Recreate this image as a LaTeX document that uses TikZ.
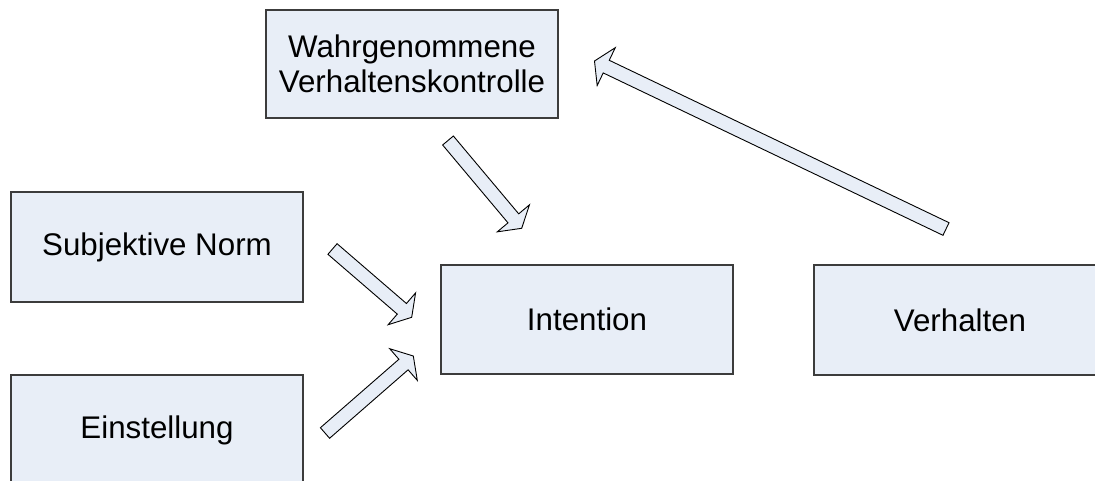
\documentclass[tikz,border=0pt]{standalone}
\usepackage{fontspec}
\setmainfont{Liberation Sans}
\usetikzlibrary{calc}
\definecolor{boxfill}{RGB}{232,238,247}
\definecolor{boxline}{RGB}{60,60,60}
\tikzset{
  box/.style={draw=boxline, line width=1.2pt, fill=boxfill, minimum width=292pt,
    minimum height=109pt, inner sep=0pt, align=center, anchor=center,
    font=\fontsize{31.3}{35.5}\selectfont},
  blockarrow/.style={draw=black, line width=0.9pt, fill=boxfill, line join=miter}
}
\newcommand{\blockarr}[2]{%
  \path ($(#2)!13pt!(#1)$) coordinate (base-#1);
  \draw[blockarrow] ($(#1)!7pt!90:(#2)$) -- ($(base-#1)!7pt!90:(#2)$)
    -- ($(base-#1)!21pt!90:(#2)$) -- (#2) -- ($(base-#1)!21pt!-90:(#2)$)
    -- ($(base-#1)!7pt!-90:(#2)$) -- ($(#1)!7pt!-90:(#2)$) -- cycle;}
\begin{document}
\begin{tikzpicture}[x=1pt,y=-1pt]
\clip (0,0) rectangle (1095,481);
\fill[white] (0,0) rectangle (1095,481);
\node[box, minimum height=108pt] (wahr) at (412,64) {Wahrgenommene\\Verhaltenskontrolle};
\node[box, minimum height=110pt] (subj) at (157,247) {Subjektive Norm};
\node[box, minimum height=110pt] (einst) at (157,430) {Einstellung};
\node[box] (int) at (587,319.5) {Intention};
\node[box, minimum height=110pt] (verh) at (960,320) {Verhalten};
% arrow end points
\coordinate (a1s) at (448,140.5);
\coordinate (a1e) at (521.7,228.3);
\coordinate (a2s) at (332.5,249);
\coordinate (a2e) at (411.7,317.3);
\coordinate (a3s) at (325,433);
\coordinate (a3e) at (413.3,356);
\coordinate (a4s) at (946,229);
\coordinate (a4e) at (594.5,61);
\blockarr{a1s}{a1e}
\blockarr{a2s}{a2e}
\blockarr{a3s}{a3e}
\blockarr{a4s}{a4e}
\end{tikzpicture}
\end{document}
